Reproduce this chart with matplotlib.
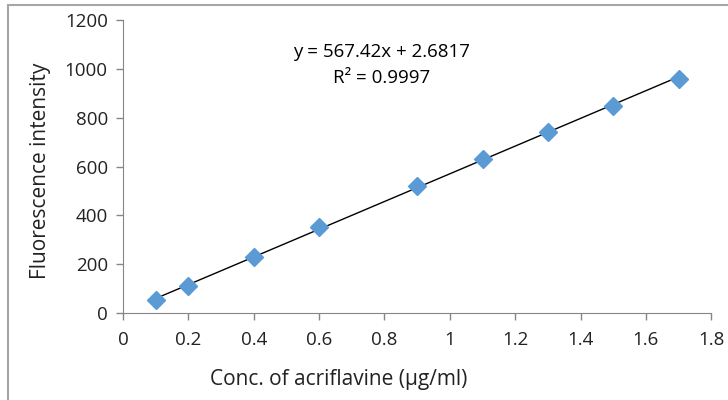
import matplotlib
matplotlib.use('Agg')
import matplotlib.pyplot as plt
import matplotlib.patches as patches
import numpy as np

plt.rcParams['font.family'] = ['Open Sans', 'DejaVu Sans']

# calibration data
conc = [0.1, 0.2, 0.4, 0.6, 0.9, 1.1, 1.3, 1.5, 1.7]
intensity = [53, 110, 229, 352, 520, 631, 742, 848, 959]
slope = 567.42
intercept = 2.6817
r2 = 0.9997

fig = plt.figure(figsize=(7.28, 4.00), dpi=100)
ax = fig.add_axes([0.169, 0.2175, 0.808, 0.7325])

# outer chart frame (left + top only visible)
frame = patches.Rectangle((8/728, -0.2), 1.2, 1.2 - 5/400, transform=fig.transFigure,
                          fill=False, edgecolor='#a6a6a6', linewidth=1.5, clip_on=False)
fig.patches.append(frame)

xs = np.array([conc[0], conc[-1]])
ax.plot(xs, slope*xs + intercept, color='black', linewidth=1.0, zorder=2)
ax.plot(conc, intensity, linestyle='none', marker='D', markersize=9.5,
        color='#5b9bd5', zorder=3)

ax.text(0.79, 1069, 'y = %.2fx + %.4f' % (slope, intercept), ha='center', va='center', fontsize=13.5)
ax.text(0.79, 962, 'R² = %.4f' % r2, ha='center', va='center', fontsize=13.5)

ax.set_xlim(0, 1.8)
ax.set_ylim(0, 1200)
ax.set_xticks(np.arange(0, 1.81, 0.2))
ax.set_xticklabels(['0', '0.2', '0.4', '0.6', '0.8', '1', '1.2', '1.4', '1.6', '1.8'])
ax.set_yticks(range(0, 1201, 200))

for s in ['top', 'right']:
    ax.spines[s].set_visible(False)
for s in ['left', 'bottom']:
    ax.spines[s].set_color('#868686')
ax.tick_params(colors='#868686', labelcolor='#222222', labelsize=13.5, length=5, width=1)
ax.tick_params(axis='x', pad=8)
ax.tick_params(axis='y', pad=6)

ax.set_xlabel('Conc. of acriflavine (μg/ml)', fontsize=15, color='#222222')
ax.set_ylabel('Fluorescence intensity', fontsize=15, color='#222222')
ax.xaxis.set_label_coords(0.366, -0.19)
ax.yaxis.set_label_coords(-0.123, 0.485)

fig.savefig('out.png', dpi=100)
